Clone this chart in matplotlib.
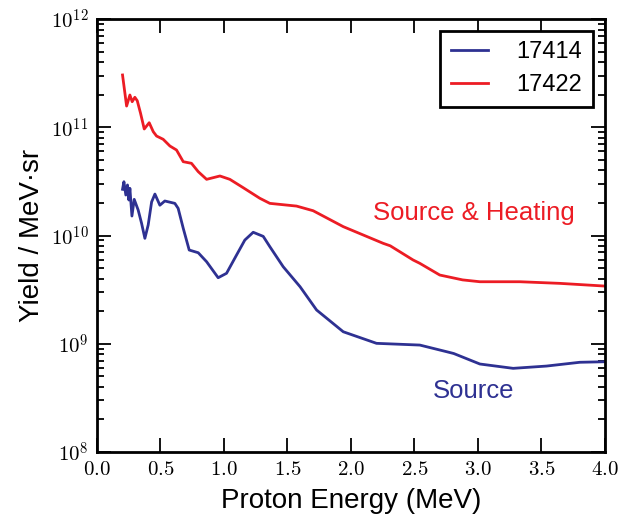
import math
import matplotlib
matplotlib.use("Agg")
import matplotlib.pyplot as plt
from matplotlib.ticker import FuncFormatter, LogLocator, MultipleLocator

plt.rcParams['font.family'] = ['Liberation Sans', 'DejaVu Sans']
plt.rcParams['mathtext.fontset'] = 'cm'

# shot 17414 (source only): energy in MeV, log10 of yield per MeV sr
e_17414 = [0.202, 0.213, 0.228, 0.241, 0.252, 0.26, 0.276, 0.294, 0.325, 0.352,
           0.378, 0.404, 0.431, 0.457, 0.496, 0.535, 0.614, 0.640, 0.680, 0.727,
           0.798, 0.864, 0.955, 1.021, 1.1, 1.165, 1.231, 1.31, 1.362, 1.467,
           1.6, 1.73, 1.94, 2.202, 2.543, 2.753, 2.81, 3.016, 3.278, 3.54, 3.803, 4.0]
logy_17414 = [10.427, 10.497, 10.374, 10.467, 10.328, 10.436, 10.18, 10.334, 10.236, 10.113,
              9.974, 10.097, 10.31, 10.383, 10.28, 10.319, 10.297, 10.251, 10.067, 9.866,
              9.841, 9.758, 9.61, 9.651, 9.82, 9.958, 10.03, 9.992, 9.897, 9.712,
              9.527, 9.312, 9.111, 9.004, 8.988, 8.927, 8.91, 8.813, 8.773, 8.794, 8.829, 8.834]

# shot 17422 (source & heating)
e_17422 = [0.202, 0.234, 0.26, 0.278, 0.299, 0.318, 0.344, 0.373, 0.412, 0.444,
           0.470, 0.522, 0.575, 0.627, 0.680, 0.745, 0.798, 0.864, 0.969, 1.047,
           1.152, 1.283, 1.362, 1.572, 1.703, 1.94, 2.254, 2.31, 2.49, 2.543, 2.70,
           2.88, 3.016, 3.331, 3.646, 4.0]
logy_17422 = [11.483, 11.196, 11.298, 11.236, 11.277, 11.245, 11.129, 10.984, 11.042, 10.959,
              10.919, 10.889, 10.827, 10.79, 10.682, 10.667, 10.59, 10.519, 10.55, 10.519,
              10.442, 10.344, 10.297, 10.272, 10.229, 10.082, 9.928, 9.905, 9.774, 9.743, 9.635,
              9.59, 9.573, 9.573, 9.558, 9.533]

blue = '#2e3192'
red = '#ec1c24'

fig = plt.figure(figsize=(6.21, 5.21), dpi=100)
ax = fig.add_axes([0.156, 0.1324, 0.818, 0.8311])

ax.plot(e_17414, [10 ** v for v in logy_17414], color=blue, lw=2, label='17414')
ax.plot(e_17422, [10 ** v for v in logy_17422], color=red, lw=2, label='17422')

ax.set_yscale('log')
ax.set_xlim(0, 4)
ax.set_ylim(1e8, 1e12)

ax.xaxis.set_major_locator(MultipleLocator(0.5))
ax.xaxis.set_major_formatter(FuncFormatter(lambda v, p: r'$%.1f$' % v))
ax.yaxis.set_major_locator(LogLocator(base=10))
ax.yaxis.set_minor_locator(LogLocator(base=10, subs=range(2, 10)))
ax.yaxis.set_major_formatter(FuncFormatter(lambda v, p: r'$10^{%d}$' % round(math.log10(v))))

ax.tick_params(which='both', direction='in', top=True, right=True, width=1.3, labelsize=15)
ax.tick_params(which='major', length=10, pad=6)
ax.tick_params(which='minor', length=5)
for s in ax.spines.values():
    s.set_linewidth(2)

ax.text(2.97, 1.6e10, 'Source & Heating', color=red, fontsize=18.5, ha='center', va='center')
ax.text(2.97, 3.66e8, 'Source', color=blue, fontsize=18.5, ha='center', va='center')

ax.set_xlabel('Proton Energy (MeV)', fontsize=20, labelpad=6)
ax.set_ylabel('Yield / MeV·sr', fontsize=20, labelpad=4)

leg = ax.legend(loc='upper right', fontsize=17, fancybox=False, framealpha=1,
                edgecolor='black', borderaxespad=0.5, handlelength=1.6,
                handletextpad=1.2, labelspacing=0.45, borderpad=0.45)
leg.get_frame().set_linewidth(2)

fig.savefig('out.png', dpi=100)
